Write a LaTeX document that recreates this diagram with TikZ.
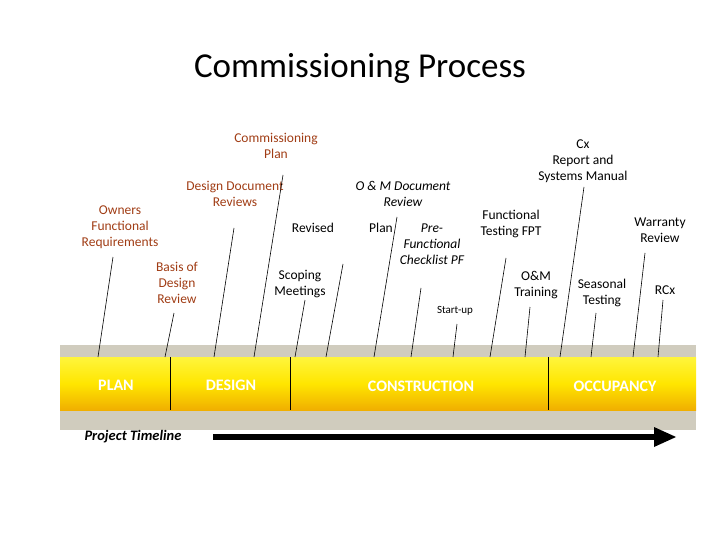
\documentclass[tikz,border=0pt]{standalone}
\usepackage{fontspec}
\setmainfont{Carlito}
\usetikzlibrary{positioning}
\definecolor{rust}{RGB}{160,60,20}
\definecolor{band}{RGB}{208,204,190}
\tikzset{
  lbl/.style={align=center, font=\fontsize{13.5}{16}\selectfont, inner sep=1pt},
  rlbl/.style={lbl, text=rust},
  ilbl/.style={lbl, font=\itshape\fontsize{13.5}{16}\selectfont},
  phase/.style={text=white, font=\bfseries\fontsize{16}{18}\selectfont},
  tick/.style={line width=0.6pt}
}
\begin{document}
\begin{tikzpicture}[x=1pt,y=-1pt]
        \useasboundingbox (0,0) rectangle (720,540);

        % Title
        \node (title) at (360,68) {\fontsize{35}{40}\selectfont Commissioning Process};

        % Band
        \fill [band] (60,345) rectangle (696,430);
        \shade [top color={rgb,255:red,255;green,245;blue,60}, bottom color={rgb,255:red,240;green,175;blue,0}, middle color={rgb,255:red,255;green,230;blue,0}] (60,357) rectangle (696,410);
        \draw [tick] (170,357) -- (170,410);
        \draw [tick] (290,357) -- (290,410);
        \draw [tick] (548,357) -- (548,410);

        % Phases
        \node [phase] (plan) at (116,385) {PLAN};
        \node [phase] (design) at (231,385) {DESIGN};
        \node [phase] (constr) at (421,386) {CONSTRUCTION};
        \node [phase] (occ) at (615,386) {OCCUPANCY};

        % Labels
        \node [rlbl] (cxplan) at (276,146) {Commissioning\\Plan};
        \node [rlbl] (ddr) at (235,194) {Design Document\\Reviews};
        \node [rlbl] (ofr) at (120,227) {Owners\\Functional\\Requirements};
        \node [rlbl] (bod) at (177,283) {Basis of\\Design\\Review};
        \node [lbl] (rev) at (313,228) {Revised};
        \node [lbl] (scope) at (300,284) {Scoping\\Meetings};
        \node [ilbl] (omdoc) at (403,194) {O \& M Document\\Review};
        \node [lbl] (pl) at (381,228) {Plan};
        \node [ilbl] (pf) at (432,244) {Pre-\\Functional\\Checklist PF};
        \node [lbl, font=\fontsize{11}{13}\selectfont] (start) at (455,311) {Start-up};
        \node [lbl] (fpt) at (511,224) {Functional\\Testing FPT};
        \node [lbl] (cxr) at (583,161) {Cx\\Report and\\Systems Manual};
        \node [lbl] (omt) at (536,285) {O\&M\\Training};
        \node [lbl] (seas) at (602,293) {Seasonal\\Testing};
        \node [lbl] (war) at (660,230) {Warranty\\Review};
        \node [lbl] (rcx) at (665,290) {RCx};

        % Ticks to the band
        \foreach \n/\a/\b/\c/\d in {t1/113/257/98/357, t2/174/313/165/357, t3/234/228/214/357,
            t4/283/175/254/357, t5/305/300/295/357, t6/343/264/326/357, t7/397/217/374/357,
            t8/421/288/411/357, t9/457/324/453/357, t10/506/258/490/357, t11/530/307/525/357,
            t12/584/187/560/357, t13/596/313/591/357, t14/645/253/633/357, t15/663/300/658/357}{
          \coordinate (\n a) at (\a,\b);
          \coordinate (\n b) at (\c,\d);
          \draw [tick] (\n a) -- (\n b);
        }

        % Timeline
        \node [font=\bfseries\itshape\fontsize{14.5}{17}\selectfont] (tl) at (133,437) {Project Timeline};
        \coordinate (ts) at (213,437);
        \coordinate (te) at (676,437);
        \draw [line width=6pt] (ts) -- (654,437);
        \fill (654,427) -- (te) -- (654,447) -- cycle;
\end{tikzpicture}
\end{document}
